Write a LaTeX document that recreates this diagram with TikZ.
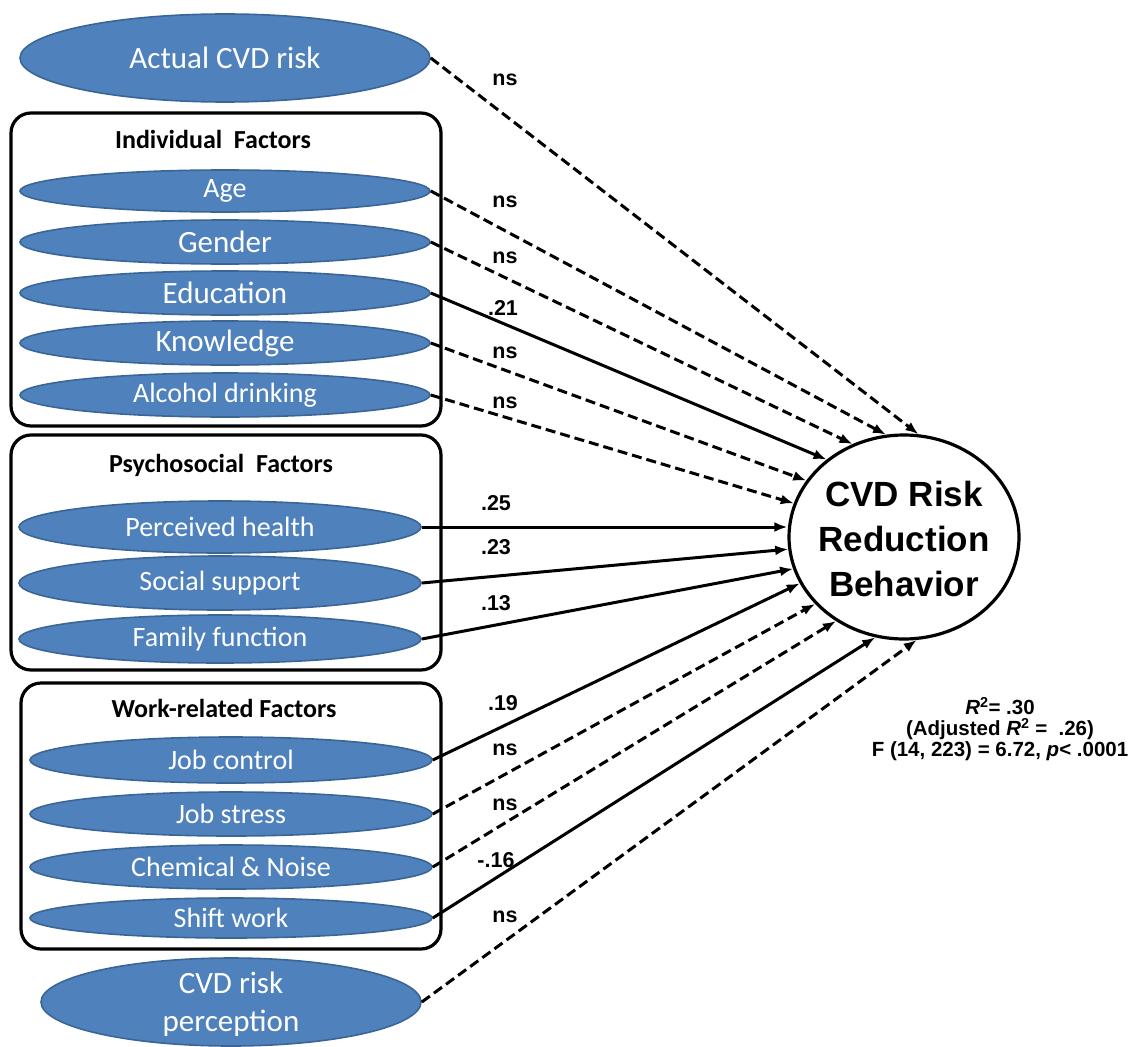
\documentclass[tikz,border=0pt]{standalone}
\usepackage{fontspec}
\setmainfont{Carlito}
\newfontfamily\arialf{Liberation Sans}
\usetikzlibrary{shapes.geometric,arrows.meta}
\definecolor{ovalfill}{HTML}{4F81BD}
\definecolor{ovaledge}{HTML}{3A6696}

\begin{document}
\begin{tikzpicture}[x=1pt,y=-1pt,
  oval/.style={ellipse,fill=ovalfill,draw=ovaledge,line width=1.6pt,inner sep=0pt,
    text=white,font=\fontsize{28}{34}\selectfont},
  bigtxt/.style={font=\fontsize{31}{38}\selectfont},
  grp/.style={draw,line width=3.2pt,rounded corners=20pt,inner sep=0pt},
  grptitle/.style={font=\bfseries\fontsize{26}{30}\selectfont,inner sep=0pt},
  link/.style={line width=3pt,-{Latex[length=13pt,width=10pt]}},
  sig/.style={link},
  nsig/.style={link,dash pattern=on 10pt off 5pt},
  coef/.style={font=\arialf\bfseries\fontsize{21.5}{24}\selectfont,inner sep=0pt},
  outcome/.style={ellipse,draw,line width=3.2pt,fill=white,inner sep=0pt,
    minimum width=230pt,minimum height=204pt}
]
\useasboundingbox (0,0) rectangle (1134,1046);

% group frames
\node[grp,minimum width=430pt,minimum height=313pt] (indivbox) at (226,269.5) {};
\node[grp,minimum width=430pt,minimum height=235pt] (psychbox) at (226,552.5) {};
\node[grp,minimum width=420pt,minimum height=266pt] (workbox) at (231,816) {};
\node[grptitle] (indivT) at (213,139) {Individual\ \ Factors};
\node[grptitle] (psychT) at (221,465) {Psychosocial\ \ Factors};
\node[grptitle] (workT) at (224,708) {Work-related Factors};

% predictors
\node[oval,bigtxt,minimum width=410pt,minimum height=88pt] (actual) at (225,58) {Actual CVD risk};
\node[oval,minimum width=410pt,minimum height=42pt] (age) at (225,191) {Age};
\node[oval,bigtxt,minimum width=410pt,minimum height=44pt] (gender) at (225,242) {Gender};
\node[oval,bigtxt,minimum width=410pt,minimum height=44pt] (edu) at (225,293) {Education};
\node[oval,bigtxt,minimum width=410pt,minimum height=44pt] (know) at (225,343) {Knowledge};
\node[oval,minimum width=410pt,minimum height=44pt] (alc) at (225,395) {Alcohol drinking};

\node[oval,minimum width=402pt,minimum height=52pt] (health) at (220,527) {Perceived health};
\node[oval,minimum width=402pt,minimum height=54pt] (social) at (220,583) {Social support};
\node[oval,minimum width=402pt,minimum height=48pt] (family) at (220,639) {Family function};

\node[oval,minimum width=402pt,minimum height=46pt] (jobctl) at (231,760) {Job control};
\node[oval,minimum width=402pt,minimum height=44pt] (jobstr) at (231,814) {Job stress};
\node[oval,minimum width=402pt,minimum height=44pt] (chem) at (231,867) {Chemical \& Noise};
\node[oval,minimum width=402pt,minimum height=40pt] (shift) at (231,918) {Shift work};

\node[oval,minimum width=380pt,minimum height=88pt] (perc) at (231,1002) {};
\node[bigtxt,text=white,align=center,inner sep=0pt] (percT) at (231,1004) {CVD risk\\[0pt]perception};

% outcome
\node[outcome] (tgt) at (904,537) {};
\node[font=\arialf\bfseries\fontsize{35}{45}\selectfont,align=center,inner sep=0pt] (tgtT) at (904,539)
  {CVD Risk\\Reduction\\Behavior};

% paths
\draw[nsig] (actual.east) -- (tgt.82);
\draw[nsig] (age.east) -- (tgt.100);
\draw[nsig] (gender.east) -- (tgt.119.5);
\draw[sig]  (edu.east) -- (tgt.135.7);
\draw[nsig] (know.east) -- (tgt.150.6);
\draw[nsig] (alc.east) -- (tgt.163);
\draw[sig]  (health.east) -- (health.east -| tgt.west);
\draw[sig]  (social.east) -- (tgt.186.4);
\draw[sig]  (family.east) -- (tgt.196.4);
\draw[sig]  (jobctl.east) -- (tgt.204.8);
\draw[nsig] (jobstr.east) -- (tgt.217.3);
\draw[nsig] (chem.east) -- (tgt.231.3);
\draw[sig]  (shift.east) -- (tgt.254.7);
\draw[nsig] (perc.east) -- (tgt.277);

% path coefficients
\node[coef] (cActual) at (505,80) {ns};
\node[coef] (cAge) at (505,202) {ns};
\node[coef] (cGender) at (505,258) {ns};
\node[coef] (cEdu) at (503,308) {.21};
\node[coef] (cKnow) at (505,353) {ns};
\node[coef] (cAlc) at (505,403) {ns};
\node[coef] (cHealth) at (496,503) {.25};
\node[coef] (cSocial) at (496,547) {.23};
\node[coef] (cFamily) at (496,603) {.13};
\node[coef] (cJobctl) at (503,703) {.19};
\node[coef] (cJobstr) at (505,750) {ns};
\node[coef] (cChem) at (505,805) {ns};
\node[coef] (cShift) at (496,860) {-.16};
\node[coef] (cPerc) at (505,917) {ns};

% model fit
\node[font=\arialf\bfseries\fontsize{20.5}{21}\selectfont,align=center,inner sep=0pt] (fit) at (1000,729)
  {\textit{R}\textsuperscript{2}= .30\\(Adjusted \textit{R}\textsuperscript{2} =\ \ .26)\\F (14, 223) = 6.72, \textit{p}< .0001};
\end{tikzpicture}
\end{document}
